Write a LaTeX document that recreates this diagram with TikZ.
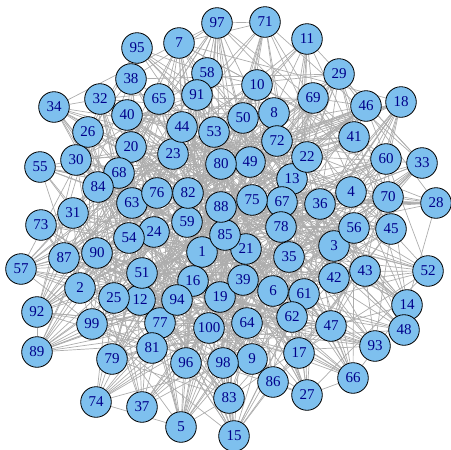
\documentclass[tikz,border=0pt]{standalone}
\usepackage{fontspec}
\setmainfont{Liberation Serif}
\usetikzlibrary{backgrounds}
\definecolor{vfill}{HTML}{7EC0EE}
\definecolor{vlabel}{HTML}{00008B}
\definecolor{ecol}{HTML}{ADADAD}
\tikzset{
  vtx/.style={circle,draw=black,line width=0.8pt,fill=vfill,text=vlabel,
    minimum size=30.6pt,inner sep=0pt,font=\fontsize{15}{15}\selectfont},
  edge/.style={draw=ecol,line width=0.7pt}
}
\begin{document}
\begin{tikzpicture}[x=1pt,y=1pt]
\useasboundingbox (0,0) rectangle (451,-450);
\foreach \n/\px/\py in {
1/202/252, 2/80/288, 3/334/246, 4/351/192, 5/181/427, 6/273/291, 7/179/43, 8/274/113, 9/252/359, 10/257/85,
11/307/39, 12/140/300, 13/292/179, 14/407/305, 15/234/436, 16/193/281, 17/299/353, 18/401/102, 19/220/297, 20/131/147,
21/246/249, 22/307/157, 23/173/154, 24/154/232, 25/114/298, 26/88/132, 27/307/395, 28/436/203, 29/339/74, 30/76/160,
31/73/213, 32/100/99, 33/422/163, 34/54/107, 35/289/257, 36/320/204, 37/142/407, 38/131/79, 39/243/280, 40/127/115,
41/354/137, 42/334/278, 43/365/271, 44/182/127, 45/391/229, 46/366/106, 47/331/326, 48/404/330, 49/250/162, 50/243/118,
51/142/273, 52/428/271, 53/214/132, 54/129/238, 55/40/167, 56/354/228, 57/21/269, 58/207/73, 59/187/222, 60/386/159,
61/304/294, 62/292/317, 63/132/203, 64/247/323, 65/159/99, 66/353/378, 67/282/202, 68/119/173, 69/313/98, 70/388/197,
71/265/22, 72/277/141, 73/41/225, 74/96/402, 75/252/200, 76/157/193, 77/160/323, 78/281/227, 79/112/359, 80/221/164,
81/152/348, 82/188/193, 83/229/398, 84/98/187, 85/225/235, 86/273/382, 87/64/258, 88/221/207, 89/37/352, 90/97/253,
91/197/95, 92/37/312, 93/375/346, 94/177/300, 95/137/48, 96/186/363, 97/217/23, 98/223/363, 99/92/324, 100/209/328}
{\node[vtx] (n\n) at (\px,-\py) {\n};}
\pgfmathsetseed{4711}
\begin{pgfonlayer}{background}
\foreach \i in {1,...,99}{
  \pgfmathtruncatemacro{\s}{\i+1}
  \foreach \j in {\s,...,100}{
    \pgfmathtruncatemacro{\e}{rnd<0.16}
    \ifnum\e=1 \draw[edge] (n\i) -- (n\j);\fi
  }
}
\end{pgfonlayer}
\end{tikzpicture}
\end{document}
